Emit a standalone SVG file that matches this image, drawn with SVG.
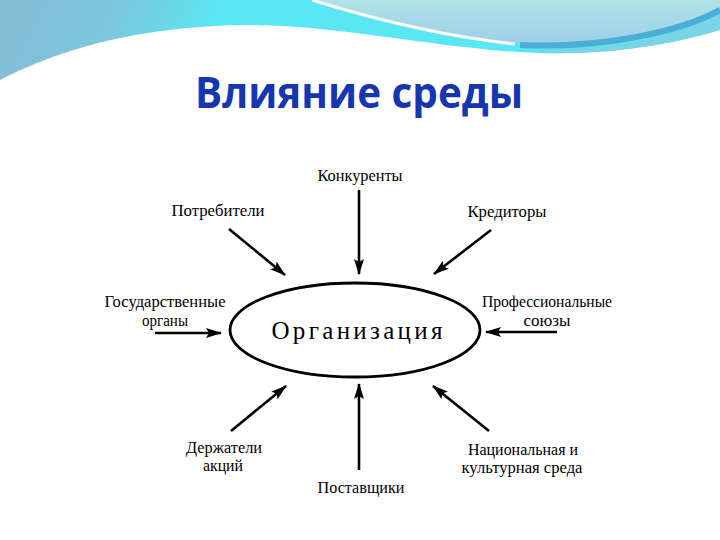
<svg xmlns="http://www.w3.org/2000/svg" width="720" height="540" viewBox="0 0 720 540">
  <style>
    .lbl { font-family: "Liberation Serif", "DejaVu Serif", serif; font-size: 16px; fill: #000; text-anchor: middle; }
    .org { font-family: "Liberation Serif", "DejaVu Serif", serif; font-size: 25px; fill: #000; text-anchor: middle; }
    .title { font-family: "Open Sans", "Liberation Sans", sans-serif; font-size: 43px; font-weight: bold; fill: #1636b0; text-anchor: middle; }
    .arr { stroke: #000; stroke-width: 2.6; fill: none; marker-end: url(#ah); }
  </style>
  <defs>
    <linearGradient id="gMain" x1="0" y1="0" x2="180" y2="90" gradientUnits="userSpaceOnUse">
      <stop offset="0" stop-color="#86bbd4"/>
      <stop offset="0.55" stop-color="#7cc8dc"/>
      <stop offset="1" stop-color="#5ae6f2"/>
    </linearGradient>
    <linearGradient id="gLight" x1="0" y1="0" x2="0" y2="1">
      <stop offset="0" stop-color="#b0e2e6"/>
      <stop offset="1" stop-color="#9ccfe8"/>
    </linearGradient>
    <marker id="ah" viewBox="0 0 16 10" refX="15" refY="5" markerWidth="16" markerHeight="10" markerUnits="userSpaceOnUse" orient="auto">
      <path d="M0,0 L16,5 L0,10 L3,5 Z" fill="#000"/>
    </marker>
  </defs>

  <rect width="720" height="540" fill="#ffffff"/>

  <g id="background">
    <path d="M0,80 C50,55 120,28 240,25 C340,24 440,50 540,53 C620,55 680,42 720,30 V0 H0 Z" fill="url(#gMain)"/>
    <path d="M540,53 C620,55 680,42 720,30 V14 C680,34 620,50 540,50 Z" fill="#78d4e6"/>
    <path d="M318,0 C380,20 450,38 520,44 C600,48 680,30 720,8 V0 Z" fill="url(#gLight)"/>
    <path d="M520,45 C600,49 680,32 720,10" stroke="#4aaed8" stroke-width="6" fill="none"/>
    <path d="M312,0 C380,21 450,37 515,44" stroke="#ffffff" stroke-width="3" fill="none"/>
  </g>

  <text id="title" class="title" x="359" y="108" textLength="328" lengthAdjust="spacingAndGlyphs">Влияние среды</text>

  <g id="connectors">
    <line class="arr" x1="359" y1="190" x2="359" y2="274"/>
    <line class="arr" x1="229" y1="229" x2="285" y2="275"/>
    <line class="arr" x1="491" y1="230" x2="434" y2="274"/>
    <line class="arr" x1="155" y1="333" x2="221" y2="333"/>
    <line class="arr" x1="557" y1="332" x2="486" y2="332"/>
    <line class="arr" x1="231" y1="431" x2="286" y2="386"/>
    <line class="arr" x1="359" y1="470" x2="359" y2="384"/>
    <line class="arr" x1="489" y1="431" x2="433" y2="386"/>
  </g>

  <g id="organization">
    <ellipse cx="355" cy="330" rx="125" ry="47" fill="none" stroke="#000" stroke-width="2.8"/>
    <text class="org" x="357" y="339" textLength="171" lengthAdjust="spacing">Организация</text>
  </g>

  <g id="competitors">
    <text class="lbl" x="360" y="181" textLength="85" lengthAdjust="spacingAndGlyphs">Конкуренты</text>
  </g>
  <g id="consumers">
    <text class="lbl" x="218" y="216" textLength="93" lengthAdjust="spacingAndGlyphs">Потребители</text>
  </g>
  <g id="creditors">
    <text class="lbl" x="507" y="217" textLength="79" lengthAdjust="spacingAndGlyphs">Кредиторы</text>
  </g>
  <g id="government">
    <text class="lbl" x="165" y="307" textLength="121" lengthAdjust="spacingAndGlyphs">Государственные</text>
    <text class="lbl" x="165" y="326" textLength="46" lengthAdjust="spacingAndGlyphs">органы</text>
  </g>
  <g id="unions">
    <text class="lbl" x="547" y="307" textLength="130" lengthAdjust="spacingAndGlyphs">Профессиональные</text>
    <text class="lbl" x="547" y="326" textLength="47" lengthAdjust="spacingAndGlyphs">союзы</text>
  </g>
  <g id="shareholders">
    <text class="lbl" x="224" y="453" textLength="76" lengthAdjust="spacingAndGlyphs">Держатели</text>
    <text class="lbl" x="223" y="471" textLength="40" lengthAdjust="spacingAndGlyphs">акций</text>
  </g>
  <g id="suppliers">
    <text class="lbl" x="361" y="493" textLength="87" lengthAdjust="spacingAndGlyphs">Поставщики</text>
  </g>
  <g id="culture">
    <text class="lbl" x="523" y="455" textLength="110" lengthAdjust="spacingAndGlyphs">Национальная и</text>
    <text class="lbl" x="522" y="473" textLength="121" lengthAdjust="spacingAndGlyphs">культурная среда</text>
  </g>
</svg>
